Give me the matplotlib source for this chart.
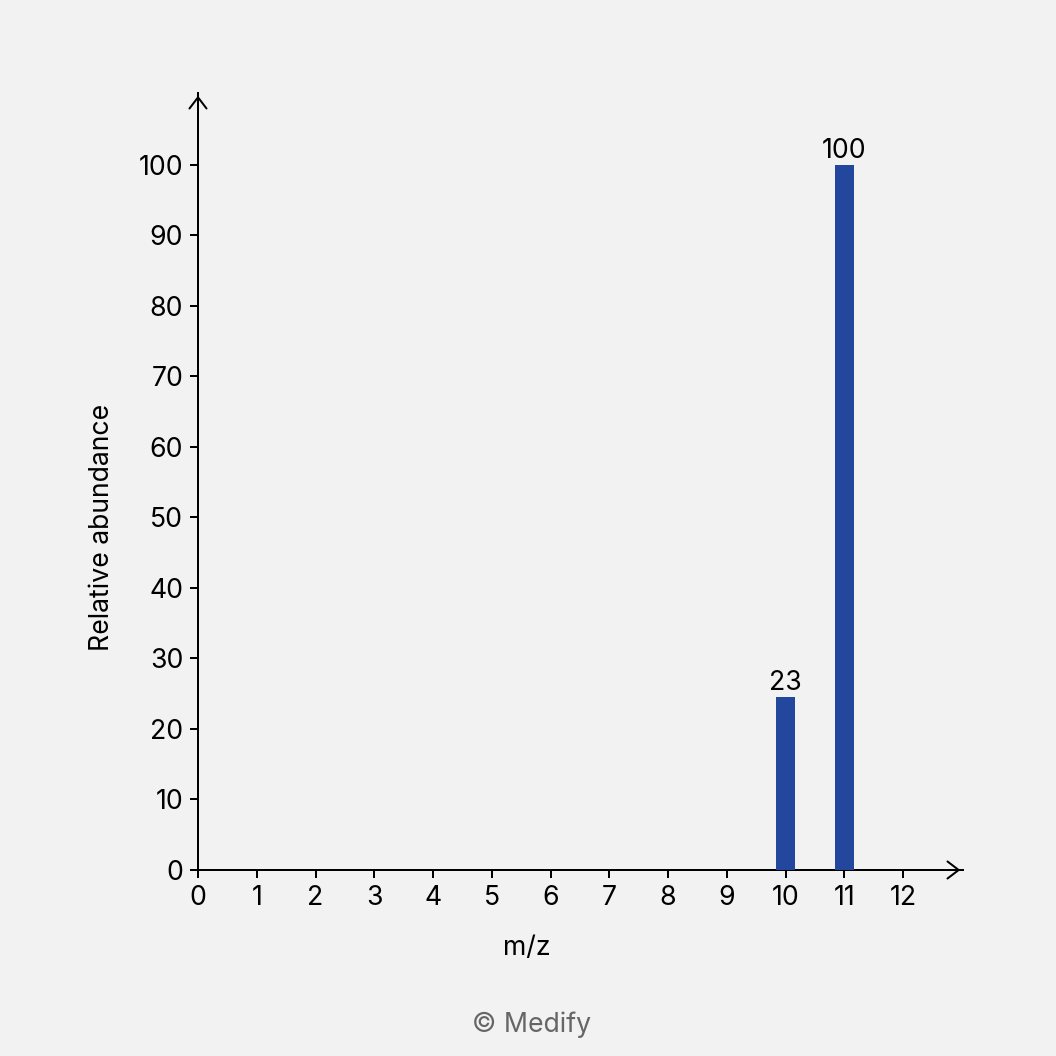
import matplotlib.pyplot as plt

# data
mz = [10, 11]
abundance = [24.5, 100]
peak_labels = ['23', '100']
x_ticks = list(range(0, 13))
y_ticks = list(range(0, 101, 10))

plt.rcParams['font.family'] = ['Inter', 'DejaVu Sans']

bg = '#f2f2f2'
fs = 20
fig = plt.figure(figsize=(11, 11), dpi=96, facecolor=bg)
ax = fig.add_axes([198 / 1056, 186 / 1056, 765 / 1056, 777 / 1056], facecolor=bg)

bars = ax.bar(mz, abundance, width=0.33, color='#24479e', zorder=3)
ax.bar_label(bars, labels=peak_labels, padding=1, fontsize=fs)

ax.set_xlim(0, 13.02)
ax.set_ylim(0, 110.2)
ax.set_xticks(x_ticks)
ax.set_yticks(y_ticks)
ax.tick_params(labelsize=fs, width=1.5, length=6, color='black', pad=5)

for s in ['top', 'right']:
    ax.spines[s].set_visible(False)
for s in ['left', 'bottom']:
    ax.spines[s].set_linewidth(1.5)
    ax.spines[s].set_color('black')

# arrow heads on axes
head = '->, head_length=0.42, head_width=0.32'
ax.annotate('', xy=(1.0, 0), xytext=(0.97, 0), xycoords='axes fraction',
            arrowprops=dict(arrowstyle=head, lw=1.5, color='black', mutation_scale=20))
ax.annotate('', xy=(0, 1.0), xytext=(0, 0.97), xycoords='axes fraction',
            arrowprops=dict(arrowstyle=head, lw=1.5, color='black', mutation_scale=20))

ax.set_xlabel('m/z', fontsize=fs)
ax.set_ylabel('Relative abundance', fontsize=fs)
ax.xaxis.set_label_coords(0.43, -0.084)
ax.yaxis.set_label_coords(-0.108, 0.441)

fig.text(532 / 1056, 1 - 1025 / 1056, '© Medify', ha='center', va='center',
         fontsize=fs, color='#666666')

plt.savefig('out.png', dpi=96, facecolor=bg)
